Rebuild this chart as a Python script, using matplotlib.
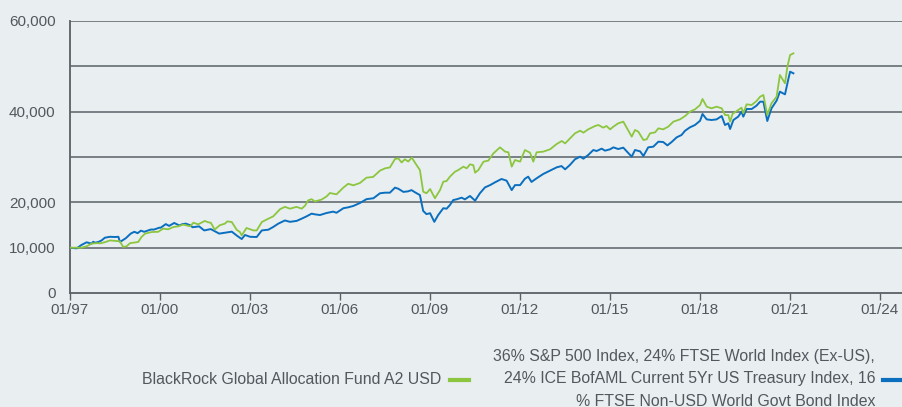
import numpy as np
import matplotlib
matplotlib.use("Agg")
import matplotlib.pyplot as plt
from matplotlib.lines import Line2D

# data (decimal year, value of 10,000 invested)
fund_years = [1997.0, 1997.24, 1997.4, 1997.57, 1997.74, 1997.9, 1998.02, 1998.18, 1998.35, 1998.52,
              1998.68, 1998.79, 1998.9, 1999.02, 1999.29, 1999.4, 1999.52, 1999.74, 1999.96, 2000.12,
              2000.29, 2000.46, 2000.62, 2000.79, 2001.02, 2001.13, 2001.29, 2001.51, 2001.62, 2001.71,
              2001.84, 2002.01, 2002.18, 2002.26, 2002.41, 2002.57, 2002.68, 2002.74, 2002.9, 2003.13,
              2003.24, 2003.41, 2003.63, 2003.79, 2004.02, 2004.18, 2004.35, 2004.57, 2004.74, 2004.85,
              2004.96, 2005.07, 2005.18, 2005.4, 2005.57, 2005.68, 2005.9, 2006.12, 2006.29, 2006.46,
              2006.68, 2006.9, 2007.12, 2007.35, 2007.52, 2007.68, 2007.85, 2007.96, 2008.07, 2008.18,
              2008.29, 2008.41, 2008.57, 2008.68, 2008.79, 2008.9, 2009.02, 2009.18, 2009.35, 2009.46,
              2009.57, 2009.68, 2009.85, 2009.96, 2010.13, 2010.24, 2010.35, 2010.46, 2010.52, 2010.63,
              2010.8, 2010.96, 2011.13, 2011.35, 2011.52, 2011.63, 2011.74, 2011.85, 2012.02, 2012.18,
              2012.35, 2012.46, 2012.57, 2012.79, 2013.02, 2013.24, 2013.41, 2013.52, 2013.63, 2013.85,
              2014.02, 2014.13, 2014.29, 2014.52, 2014.63, 2014.79, 2014.9, 2015.02, 2015.13, 2015.29,
              2015.46, 2015.74, 2015.85, 2015.96, 2016.13, 2016.24, 2016.35, 2016.52, 2016.63, 2016.79,
              2016.96, 2017.13, 2017.35, 2017.52, 2017.68, 2017.85, 2018.02, 2018.1, 2018.24, 2018.4,
              2018.57, 2018.74, 2018.85, 2018.96, 2019.02, 2019.1, 2019.29, 2019.4, 2019.46, 2019.57,
              2019.74, 2019.9, 2020.02, 2020.13, 2020.26, 2020.4, 2020.57, 2020.68, 2020.85, 2020.93,
              2021.02, 2021.13]
fund_values = [10000, 10000, 10000, 10300, 10900, 11000, 10950, 11200, 11600, 11500,
               11400, 10150, 10300, 11000, 11250, 12350, 13100, 13450, 13500, 14200,
               14050, 14550, 14700, 15100, 14700, 15500, 15150, 15900, 15600, 15500,
               14000, 14950, 15300, 15800, 15650, 13970, 13450, 12700, 14340, 13800,
               13800, 15650, 16400, 16900, 18500, 19000, 18600, 19000, 18600, 19260,
               20440, 20700, 20200, 20600, 21300, 22060, 21760, 23200, 24100, 23750,
               24260, 25440, 25600, 27000, 27500, 27700, 29560, 29700, 28800, 29500,
               29000, 29850, 28200, 27130, 22350, 22000, 22940, 20900, 22700, 24560,
               24700, 25660, 26760, 27130, 27870, 27500, 28380, 28200, 26540, 27130,
               28970, 29200, 30800, 32130, 31180, 31030, 27870, 29340, 28970, 31540,
               30960, 28970, 31030, 31180, 31700, 32870, 33530, 33000, 33750, 35220,
               35800, 35370, 36100, 36840, 37060, 36470, 36840, 36100, 36700, 37430,
               37800, 34490, 35960, 35590, 33750, 33900, 35220, 35440, 36320, 36100,
               36700, 37800, 38300, 39040, 40000, 40510, 41470, 42800, 41100, 40740,
               41100, 40740, 39260, 39260, 37800, 39490, 40370, 40880, 39630, 41620,
               41470, 42350, 43300, 43680, 39260, 41840, 43300, 48100, 46250, 49930,
               52500, 52870]

bench_years = [1997.0, 1997.24, 1997.4, 1997.57, 1997.74, 1997.79, 1997.85, 1997.96, 1998.07, 1998.18,
               1998.35, 1998.52, 1998.63, 1998.68, 1998.74, 1998.88, 1999.04, 1999.16, 1999.27, 1999.38,
               1999.49, 1999.71, 1999.82, 1999.99, 2000.04, 2000.21, 2000.32, 2000.49, 2000.66, 2000.77,
               2000.88, 2001.04, 2001.1, 2001.32, 2001.49, 2001.71, 2001.82, 2001.99, 2002.18, 2002.41,
               2002.57, 2002.74, 2002.85, 2003.02, 2003.24, 2003.41, 2003.63, 2003.79, 2003.96, 2004.18,
               2004.35, 2004.57, 2004.74, 2004.9, 2005.07, 2005.18, 2005.35, 2005.57, 2005.79, 2005.9,
               2006.13, 2006.29, 2006.46, 2006.68, 2006.9, 2007.13, 2007.35, 2007.52, 2007.68, 2007.85,
               2007.96, 2008.13, 2008.29, 2008.4, 2008.52, 2008.68, 2008.79, 2008.9, 2009.02, 2009.16,
               2009.29, 2009.46, 2009.57, 2009.68, 2009.79, 2009.9, 2010.07, 2010.18, 2010.35, 2010.52,
               2010.68, 2010.85, 2011.02, 2011.18, 2011.4, 2011.57, 2011.74, 2011.85, 2012.02, 2012.18,
               2012.29, 2012.4, 2012.57, 2012.79, 2013.02, 2013.24, 2013.4, 2013.52, 2013.68, 2013.85,
               2014.02, 2014.13, 2014.29, 2014.46, 2014.57, 2014.74, 2014.85, 2015.02, 2015.13, 2015.29,
               2015.46, 2015.74, 2015.85, 2016.02, 2016.13, 2016.29, 2016.46, 2016.63, 2016.79, 2016.93,
               2017.07, 2017.24, 2017.4, 2017.52, 2017.68, 2017.85, 2018.02, 2018.1, 2018.24, 2018.4,
               2018.57, 2018.74, 2018.85, 2018.96, 2019.02, 2019.13, 2019.29, 2019.4, 2019.46, 2019.57,
               2019.74, 2019.9, 2020.02, 2020.13, 2020.26, 2020.4, 2020.57, 2020.68, 2020.85, 2020.96,
               2021.02, 2021.13]
bench_values = [10000, 9850, 10600, 11180, 10900, 11300, 11100, 11250, 11600, 12200,
                12400, 12350, 12400, 11300, 11500, 12100, 13100, 13500, 13200, 13750,
                13500, 14000, 14000, 14400, 14400, 15200, 14800, 15450, 14900, 15200,
                15300, 14900, 14500, 14700, 13800, 14100, 13700, 13100, 13300, 13530,
                12700, 11900, 12800, 12400, 12350, 13800, 13970, 14560, 15300, 16000,
                15700, 15900, 16400, 16900, 17500, 17350, 17200, 17650, 17950, 17700,
                18700, 18900, 19200, 19850, 20700, 20900, 22000, 22130, 22130, 23240,
                23000, 22300, 22430, 22700, 22200, 21600, 18100, 17400, 17600, 15700,
                17200, 18700, 18600, 19400, 20500, 20660, 21030, 20660, 21400, 20370,
                22000, 23300, 23800, 24400, 25150, 24780, 22700, 23800, 23800, 25200,
                25660, 24500, 25300, 26250, 27000, 27720, 28000, 27280, 28240, 29500,
                30070, 29630, 30440, 31540, 31320, 31840, 31400, 31700, 32130, 31760,
                32060, 30070, 31540, 31250, 30220, 32130, 32280, 33380, 33300, 32570,
                33300, 34340, 34850, 35800, 36540, 37060, 38000, 39490, 38300, 38160,
                38300, 39040, 37060, 37430, 36180, 38160, 38900, 40000, 38900, 40590,
                40590, 41320, 42200, 42200, 37940, 40740, 42430, 44410, 43820, 47130,
                48820, 48460]

xtick_years = [1997, 2000, 2003, 2006, 2009, 2012, 2015, 2018, 2021, 2024]
xtick_labels = ["01/97", "01/00", "01/03", "01/06", "01/09", "01/12", "01/15", "01/18", "01/21", "01/24"]
ygrid = [0, 10000, 20000, 30000, 40000, 50000, 60000]
ytick_values = [0, 10000, 20000, 40000, 60000]

fund_name = "BlackRock Global Allocation Fund A2 USD"
bench_lines = ["36% S&P 500 Index, 24% FTSE World Index (Ex-US),",
               "24% ICE BofAML Current 5Yr US Treasury Index, 16",
               "% FTSE Non-USD World Govt Bond Index"]

bg = "#e9eef1"
green = "#8cc63f"
blue = "#0b6fbf"
txt = "#52585e"

plt.rcParams["font.family"] = ["Liberation Sans", "DejaVu Sans"]

fig = plt.figure(figsize=(9.02, 4.07), dpi=100, facecolor=bg)
ax = fig.add_axes([69.5 / 902, 1 - 293 / 407, 1 - 69.5 / 902, 272 / 407])
ax.set_facecolor(bg)

for g in ygrid[1:]:
    ax.axhline(g, color="#6f777d", linewidth=1.3, zorder=1)

ax.plot(fund_years, fund_values, color=green, linewidth=1.3, zorder=3)
ax.plot(bench_years, bench_values, color=blue, linewidth=1.4, zorder=2)

ax.set_xlim(1997, 2024.75)
ax.set_ylim(0, 60000)
ax.set_xticks(xtick_years)
ax.set_xticklabels(xtick_labels)
ax.set_yticks(ytick_values)
ax.set_yticklabels([f"{v:,}" for v in ytick_values])
ax.tick_params(axis="x", length=5, width=1, color="#5a6066", labelsize=11, labelcolor=txt, pad=2)
ax.tick_params(axis="y", length=0, labelsize=11, labelcolor=txt, pad=10)

for s in ["top", "right"]:
    ax.spines[s].set_visible(False)
for s in ["left", "bottom"]:
    ax.spines[s].set_color("#5a6066")
    ax.spines[s].set_linewidth(1.3)

# legend drawn by hand to follow the layout of the source
fig.text(441 / 902, 1 - 380 / 407, fund_name, ha="right", va="center", fontsize=11.4, color=txt)
fig.add_artist(Line2D([450 / 902, 469 / 902], [1 - 379.5 / 407] * 2, color=green, linewidth=3,
                      transform=fig.transFigure))
for i, line in enumerate(bench_lines):
    fig.text(875 / 902, 1 - (357 + 22 * i) / 407, line, ha="right", va="center",
             fontsize=11.4, color=txt)
fig.add_artist(Line2D([883 / 902, 905 / 902], [1 - 379.5 / 407] * 2, color=blue, linewidth=3,
                      transform=fig.transFigure))

fig.savefig("out.png", dpi=100, facecolor=bg)
